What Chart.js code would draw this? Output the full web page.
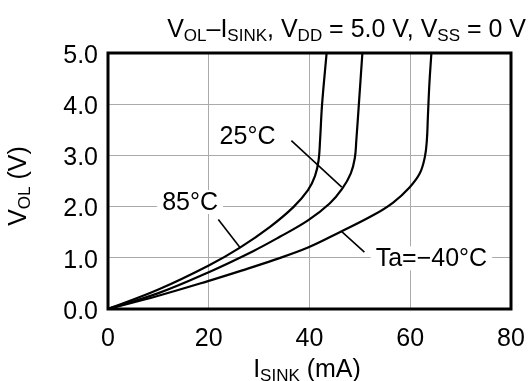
<!DOCTYPE html>
<html>
<head>
<meta charset="utf-8">
<script src="https://cdn.jsdelivr.net/npm/chart.js@4.4.0/dist/chart.umd.min.js"></script>
<style>
html,body{margin:0;padding:0;background:#fff;}
#wrap{width:529px;height:381px;position:relative;}
</style>
</head>
<body>
<div id="wrap"><canvas id="c" width="529" height="381"></canvas></div>
<script>
// Data (I_SINK mA, V_OL V)
const xTicks = [0, 20, 40, 60, 80];
const yTicks = [0, 1, 2, 3, 4, 5];
const seriesNames = ['85°C', '25°C', 'Ta=−40°C'];
const curve85I = [0, 10, 20, 26.2, 32.1, 36.8, 39.7, 41.1, 41.8, 42.1, 42.5, 43.4];
const curve85V = [0, 0.38, 0.85, 1.2, 1.6, 1.99, 2.32, 2.6, 2.9, 3.3, 4.0, 5.0];
const curve25I = [0, 10, 20, 28.8, 34.1, 39.7, 44, 46.5, 48.2, 49, 49.3, 49.8, 50.5];
const curve25V = [0, 0.31, 0.72, 1.13, 1.41, 1.73, 2.06, 2.35, 2.65, 2.95, 3.3, 4.0, 5.0];
const curveM40I = [0, 10, 20, 26.5, 33, 39.7, 46, 52.6, 56.6, 59.9, 61.9, 62.9, 63.3, 63.5, 63.8, 64.2];
const curveM40V = [0, 0.26, 0.55, 0.75, 0.96, 1.2, 1.5, 1.83, 2.08, 2.38, 2.65, 2.97, 3.3, 3.75, 4.4, 5.0];

const FONT = '"Liberation Sans", Arial, sans-serif';
const FS = 25;
const toPts = (xs, ys) => xs.map((x, i) => ({x: x, y: ys[i]}));

// labels with pointer lines, positioned in data coordinates
const notes = [
  {text: seriesNames[0], at: [16.3, 2.09], from: [21.9, 1.75], to: [26.2, 1.2], bg: true},
  {text: seriesNames[1], at: [27.7, 3.37], from: [36.4, 3.29], to: [46.4, 2.38], bg: false},
  {text: seriesNames[2], at: [64.2, 0.99], from: [50.9, 1.11], to: [46.4, 1.51], bg: true}
];

function drawSub(ctx, parts, x, y, size, align) {
  const big = size + 'px ' + FONT, small = Math.round(size * 0.68) + 'px ' + FONT;
  let w = 0;
  parts.forEach(p => { ctx.font = p[1] ? small : big; w += ctx.measureText(p[0]).width; });
  let cx = align === 'right' ? x - w : (align === 'center' ? x - w / 2 : x);
  ctx.textAlign = 'left';
  ctx.textBaseline = 'alphabetic';
  parts.forEach(p => {
    ctx.font = p[1] ? small : big;
    ctx.fillText(p[0], cx, y + (p[1] ? size * 0.16 : 0));
    cx += ctx.measureText(p[0]).width;
  });
  return w;
}

const decor = {
  id: 'decor',
  beforeDatasetsDraw(chart) {
    const {ctx, scales: {x, y}} = chart;
    ctx.save();
    ctx.font = FS + 'px ' + FONT;
    ctx.textAlign = 'center';
    ctx.textBaseline = 'middle';
    notes.forEach(n => {
      const px = x.getPixelForValue(n.at[0]), py = y.getPixelForValue(n.at[1]);
      if (n.bg) {
        const w = ctx.measureText(n.text).width;
        ctx.fillStyle = '#fff';
        ctx.fillRect(px - w / 2 - 5, py - 12, w + 10, 24);
      }
      ctx.strokeStyle = '#000';
      ctx.lineWidth = 1.6;
      ctx.beginPath();
      ctx.moveTo(x.getPixelForValue(n.from[0]), y.getPixelForValue(n.from[1]));
      ctx.lineTo(x.getPixelForValue(n.to[0]), y.getPixelForValue(n.to[1]));
      ctx.stroke();
      ctx.fillStyle = '#000';
      ctx.fillText(n.text, px, py + 1);
    });
    ctx.restore();
  },
  afterDraw(chart) {
    const {ctx, chartArea: a} = chart;
    ctx.save();
    ctx.strokeStyle = '#000';
    ctx.lineWidth = 3;
    ctx.strokeRect(a.left, a.top, a.right - a.left, a.bottom - a.top);
    ctx.fillStyle = '#000';
    drawSub(ctx, [['V', 0], ['OL', 1], ['–I', 0], ['SINK', 1], [', V', 0], ['DD', 1], [' = 5.0 V, V', 0], ['SS', 1], [' = 0 V', 0]], 526, 37, FS, 'right');
    drawSub(ctx, [['I', 0], ['SINK', 1], [' (mA)', 0]], 307, 377, FS, 'center');
    ctx.translate(26, 186);
    ctx.rotate(-Math.PI / 2);
    drawSub(ctx, [['V', 0], ['OL', 1], [' (V)', 0]], 0, 0, FS, 'center');
    ctx.restore();
  }
};

const lineStyle = {borderColor: '#000', borderWidth: 2.2, pointRadius: 0, fill: false, tension: 0.4};

new Chart(document.getElementById('c'), {
  type: 'line',
  data: {
    datasets: [
      Object.assign({label: seriesNames[0], data: toPts(curve85I, curve85V)}, lineStyle),
      Object.assign({label: seriesNames[1], data: toPts(curve25I, curve25V)}, lineStyle),
      Object.assign({label: seriesNames[2], data: toPts(curveM40I, curveM40V)}, lineStyle)
    ]
  },
  options: {
    responsive: false,
    animation: false,
    layout: {padding: {top: 53, right: 18, left: 0, bottom: 0}},
    plugins: {legend: {display: false}, tooltip: {enabled: false}},
    scales: {
      x: {
        type: 'linear', min: 0, max: 80,
        afterBuildTicks: s => { s.ticks = xTicks.map(v => ({value: v})); },
        afterFit: s => { s.height = 72; s.paddingLeft = 0; s.paddingRight = 0; },
        grid: {color: '#aaaaaa', lineWidth: 1, drawTicks: false},
        border: {display: false},
        ticks: {color: '#000', font: {family: FONT, size: FS}, padding: 15, maxRotation: 0, callback: v => String(v)}
      },
      y: {
        type: 'linear', min: 0, max: 5,
        afterBuildTicks: s => { s.ticks = yTicks.map(v => ({value: v})); },
        afterFit: s => { s.width = 108; s.paddingTop = 0; s.paddingBottom = 0; },
        grid: {color: '#aaaaaa', lineWidth: 1, drawTicks: false},
        border: {display: false},
        ticks: {color: '#000', font: {family: FONT, size: FS}, padding: 10, labelOffset: 3, callback: v => Number(v).toFixed(1)}
      }
    }
  },
  plugins: [decor]
});
</script>
</body>
</html>
